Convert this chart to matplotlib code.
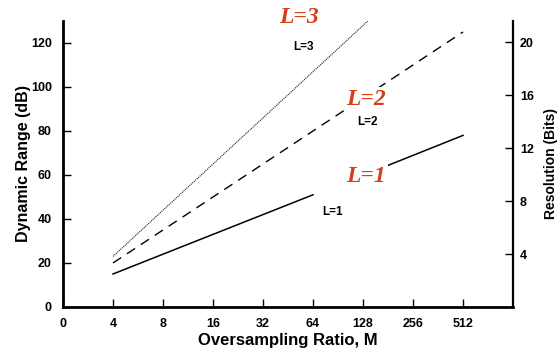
import numpy as np
import matplotlib
matplotlib.use("Agg")
import matplotlib.pyplot as plt

# oversampling ratio M vs dynamic range (dB), one line per loop order L
l1_m = [4, 64, np.nan, 176, 512]
l1_db = [15, 51, np.nan, 64, 78]
l2_m = [4, 512]
l2_db = [20, 125]
l3_m = [4, 137]
l3_db = [23, 130]

xticks = [2, 4, 8, 16, 32, 64, 128, 256, 512]
xtick_labels = ["0", "4", "8", "16", "32", "64", "128", "256", "512"]
dr_ticks = [0, 20, 40, 60, 80, 100, 120]
bit_ticks = [4, 8, 12, 16, 20]
DB_PER_BIT = 6.02
DB_MAX = 130

RED = "#d63c17"
plt.rcParams["font.family"] = ["Liberation Sans", "DejaVu Sans"]
plt.rcParams["font.weight"] = "bold"

fig = plt.figure(figsize=(5.6, 3.51), dpi=100)
ax = fig.add_axes([0.1125, 0.1254, 0.8036, 0.8148])

ax.plot(l1_m, l1_db, color="k", lw=1.1)
ax.plot(l2_m, l2_db, color="k", lw=1.0, ls=(0, (7, 5)))
ax.plot(l3_m, l3_db, color="#222222", lw=0.8, ls=(0, (1, 0.8)))

ax.set_xscale("log", base=2)
ax.set_xlim(2, 1024)
ax.set_ylim(0, DB_MAX)
ax.set_xticks(xticks)
ax.set_xticklabels(xtick_labels)
ax.minorticks_off()
ax.set_yticks(dr_ticks)

for s in ["top", "right"]:
    ax.spines[s].set_visible(False)
ax.spines["left"].set_linewidth(2)
ax.spines["bottom"].set_linewidth(2)
ax.tick_params(direction="in", length=6, width=1, labelsize=9, pad=8)

ax.set_xlabel("Oversampling Ratio, M", fontsize=12, fontweight="bold", labelpad=2)
ax.set_ylabel("Dynamic Range (dB)", fontsize=11.5, fontweight="bold", labelpad=0)

# resolution axis: 6.02 dB per bit
ax2 = ax.twinx()
ax2.set_ylim(0, DB_MAX / DB_PER_BIT)
ax2.set_yticks(bit_ticks)
for s in ["top", "left", "bottom"]:
    ax2.spines[s].set_visible(False)
ax2.spines["right"].set_linewidth(1.6)
ax2.tick_params(direction="in", length=6, width=1, labelsize=9, pad=5)
ax2.set_ylabel("Resolution (Bits)", fontsize=10, fontweight="bold", labelpad=7)

# small line labels
for m, db, txt in [(56, 118, "L=3"), (136, 84, "L=2"), (84, 43, "L=1")]:
    ax.text(m, db, txt, fontsize=8.5, fontweight="bold", ha="center", va="center")

# big red overlay labels (pasted on white, hiding the line underneath)
red_kw = dict(color=RED, fontsize=17, fontweight="bold", style="italic",
              family="Liberation Serif", ha="center", va="center", clip_on=False,
              zorder=5)
ax.text(53, 131.5, "L=3", **red_kw)
ax.text(134, 94.5, "L=2", bbox=dict(fc="white", ec="none", pad=1), **red_kw)
ax.text(134, 59.5, "L=1", bbox=dict(fc="white", ec="none", pad=1), **red_kw)

fig.savefig("out.png", dpi=100)
